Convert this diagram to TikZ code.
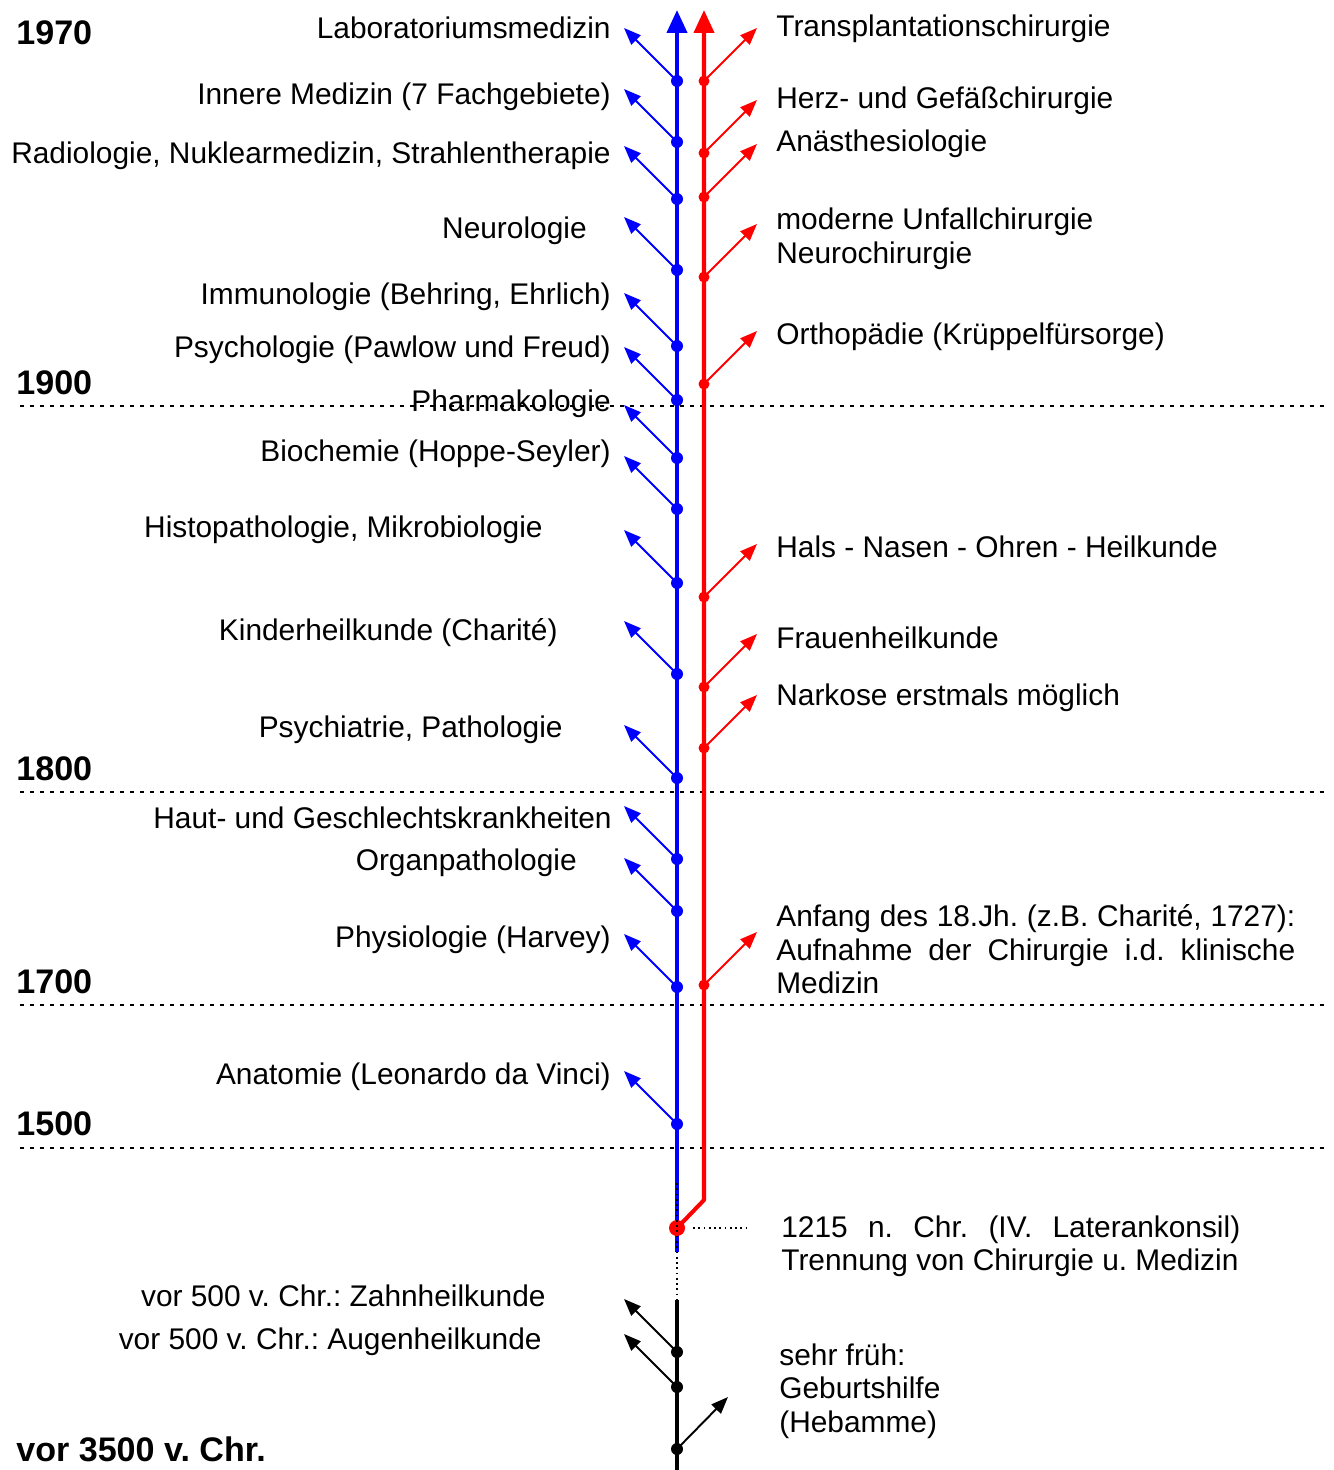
\documentclass[tikz,border=0pt]{standalone}
\usepackage{fontspec}
\setmainfont{Liberation Sans}
\usetikzlibrary{arrows.meta}
\frenchspacing

\begin{document}
\begin{tikzpicture}[x=0.02cm, y=-0.02cm,
    stem/.style={line width=2.3pt, -{Triangle[length=0.46cm,width=0.4cm]}},
    branch/.style={line width=1.1pt, -{Triangle[length=0.34cm,width=0.26cm]}},
    lab/.style={inner sep=0pt, font=\fontsize{17}{19.2}\selectfont},
    year/.style={inner sep=0pt, anchor=base west, font=\fontsize{19.4}{22}\selectfont\bfseries},
    era/.style={line width=0.8pt, dash pattern=on 0.08cm off 0.12cm}]
  \useasboundingbox (0,0) rectangle (1334,1470);

  % centuries
  \foreach \y/\yr in {406/1900, 792/1800, 1005/1700, 1148/1500} {
    \coordinate (e\yr l) at (20,\y);
    \coordinate (e\yr r) at (1325,\y);
    \draw[era] (e\yr l) -- (e\yr r);
  }
  \node[year] (y1970) at (16,45) {1970};
  \node[year] (y1900) at (16,394) {1900};
  \node[year] (y1800) at (16,780) {1800};
  \node[year] (y1700) at (16,993) {1700};
  \node[year] (y1500) at (16,1135) {1500};
  \node[year] (y3500) at (16,1461) {vor 3500 v. Chr.};

  % stems
  \coordinate (btop) at (677,10);
  \coordinate (bbot) at (677,1252);
  \coordinate (rtop) at (704,10);
  \coordinate (rknee) at (704,1200);
  \coordinate (split) at (677,1228);
  \draw[stem, blue] (bbot) -- (btop);
  \draw[stem, red, line join=round] (split) -- (rknee) -- (rtop);
  \fill[red] (split) circle (0.16cm);

  \coordinate (dtop) at (677,1183);
  \coordinate (dbot) at (677,1300);
  \coordinate (kbot) at (677,1470);
  \draw[line width=1pt, dotted] (dtop) -- (dbot);
  \draw[line width=2.3pt] (dbot) -- (kbot);
  \coordinate (h1) at (693,1228);
  \coordinate (h2) at (746,1228);
  \draw[line width=1pt, dotted] (h1) -- (h2);

  % Medizin
  \foreach \y [count=\i] in {81,142,199,270,346,400,458,509,583,674,778,859,911,987,1124} {
    \coordinate (b\i) at (677,\y);
    \coordinate (bt\i) at (624,\y-53);
    \draw[branch, blue] (b\i) -- (bt\i);
    \fill[blue] (b\i) circle (0.12cm);
  }
  % Chirurgie
  \foreach \y [count=\i] in {81,153,197,277,384,597,687,748,985} {
    \coordinate (r\i) at (704,\y);
    \coordinate (rt\i) at (757,\y-53);
    \draw[branch, red] (r\i) -- (rt\i);
    \fill[red] (r\i) circle (0.11cm);
  }
  % Antike
  \foreach \y [count=\i] in {1352,1387} {
    \coordinate (k\i) at (677,\y);
    \coordinate (kt\i) at (624,\y-53);
    \draw[branch] (k\i) -- (kt\i);
    \fill (k\i) circle (0.12cm);
  }
  \coordinate (k3) at (677,1449);
  \coordinate (kt3) at (728,1397);
  \draw[branch] (k3) -- (kt3);
  \fill (k3) circle (0.12cm);

  \foreach \y/\x/\t [count=\i] in {
      28/611/Laboratoriumsmedizin,
      94/611/{Innere Medizin (7 Fachgebiete)},
      152/611/{Radiologie, Nuklearmedizin, Strahlentherapie},
      227/587/Neurologie,
      293/611/{Immunologie (Behring, Ehrlich)},
      346/611/{Psychologie (Pawlow und Freud)},
      400/611/Pharmakologie,
      450/611/{Biochemie (Hoppe-Seyler)},
      526/543/{Histopathologie, Mikrobiologie},
      629/558/{Kinderheilkunde (Charité)},
      726/563/{Psychiatrie, Pathologie},
      817/612/{Haut- und Geschlechtskrankheiten},
      859/577/Organpathologie,
      936/611/{Physiologie (Harvey)},
      1073/611/{Anatomie (Leonardo da Vinci)},
      1295/546/{vor 500 v. Chr.: Zahnheilkunde},
      1338/542/{vor 500 v. Chr.: Augenheilkunde}} {
    \node[lab, anchor=base east] (ml\i) at (\x,\y+11) {\t};
  }
  \foreach \y/\t [count=\i] in {
      26/Transplantationschirurgie,
      98/{Herz- und Gefäßchirurgie},
      141/Anästhesiologie,
      333/{Orthopädie (Krüppelfürsorge)},
      546/{Hals - Nasen - Ohren - Heilkunde},
      637/Frauenheilkunde,
      694/{Narkose erstmals möglich}} {
    \node[lab, anchor=base west] (cl\i) at (776,\y+11) {\t};
  }
  \node[lab, anchor=north west, align=left] (unfall) at (776,208)
    {moderne Unfallchirurgie\\Neurochirurgie};
  \node[lab, anchor=north west, align=left] (anfang) at (776,904)
    {\makebox[10.38cm][s]{Anfang des 18.Jh. (z.B. Charité, 1727):}\\
     \makebox[10.38cm][s]{Aufnahme der Chirurgie i.d. klinische}\\Medizin};
  \node[lab, anchor=north west, align=left] (konsil) at (781,1215)
    {\makebox[9.18cm][s]{1215 n. Chr. (IV. Laterankonsil)}\\
     Trennung von Chirurgie u. Medizin};
  \node[lab, anchor=north west, align=left] (geburt) at (779,1343)
    {sehr früh:\\Geburtshilfe\\(Hebamme)};
\end{tikzpicture}
\end{document}
